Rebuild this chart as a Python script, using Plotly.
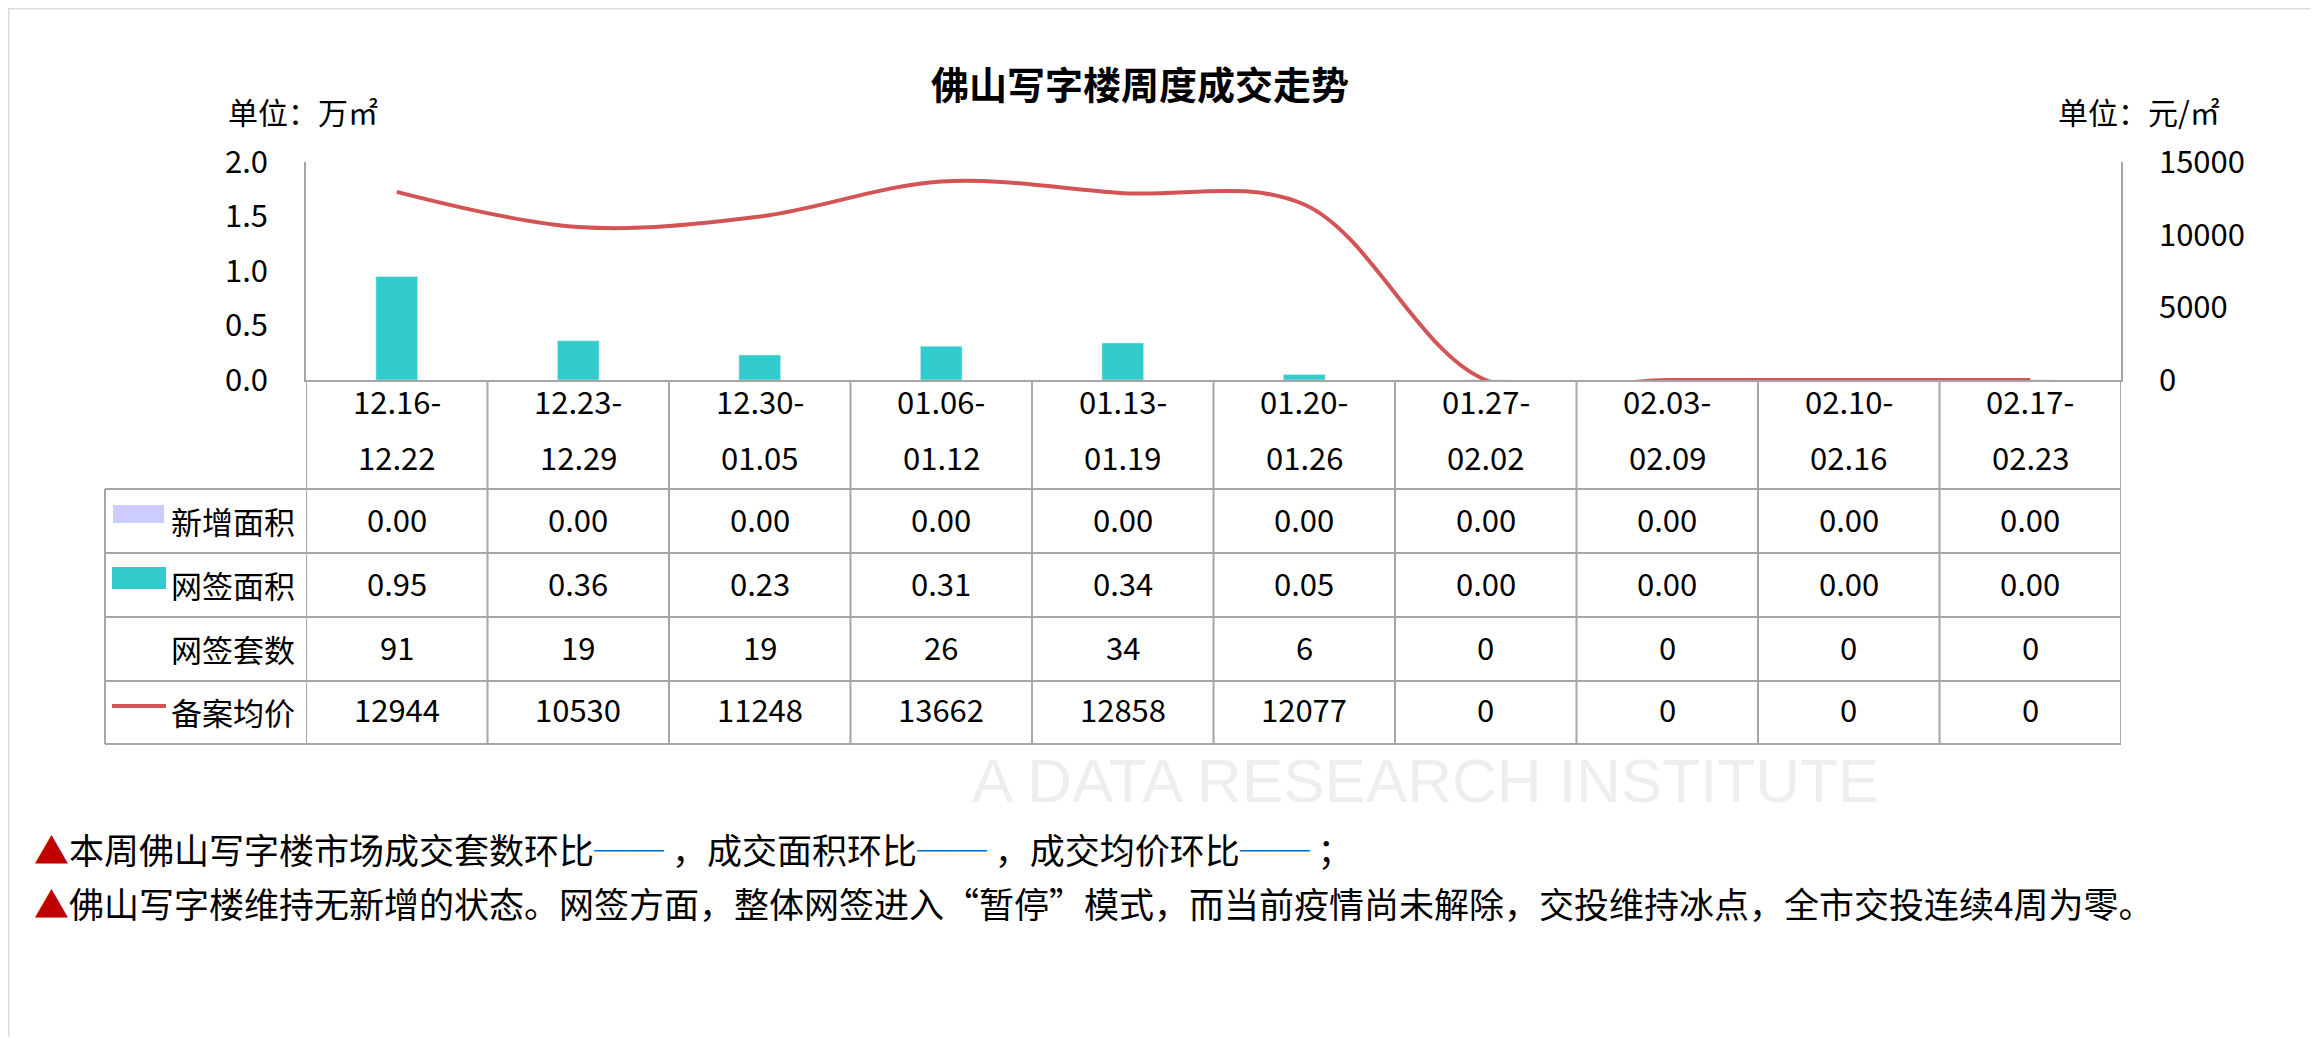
import plotly.graph_objects as go

weeks_start = ["12.16-", "12.23-", "12.30-", "01.06-", "01.13-",
               "01.20-", "01.27-", "02.03-", "02.10-", "02.17-"]
weeks_end = ["12.22", "12.29", "01.05", "01.12", "01.19",
             "01.26", "02.02", "02.09", "02.16", "02.23"]
weeks = [a + b for a, b in zip(weeks_start, weeks_end)]

new_area = [0.00, 0.00, 0.00, 0.00, 0.00, 0.00, 0.00, 0.00, 0.00, 0.00]
signed_area = [0.95, 0.36, 0.23, 0.31, 0.34, 0.05, 0.00, 0.00, 0.00, 0.00]
signed_units = [91, 19, 19, 26, 34, 6, 0, 0, 0, 0]
avg_price = [12944, 10530, 11248, 13662, 12858, 12077, 0, 0, 0, 0]

row_names = ["新增面积", "网签面积", "网签套数", "备案均价"]

title = "佛山写字楼周度成交走势"
DASH = "<span style='color:#0070C0'>──</span>"
note1 = ("<span style='color:#C00000'>▲</span>本周佛山写字楼市场成交套数环比"
         + DASH + " ，成交面积环比" + DASH + " ，成交均价环比" + DASH + " ；")
note2 = ("<span style='color:#C00000'>▲</span>佛山写字楼维持无新增的状态。网签方面，"
         "整体网签进入“暂停”模式，而当前疫情尚未解除，交投维持冰点，全市交投连续4周为零。")

FONT = "Noto Sans CJK SC"
W, H = 2318, 1045
OFF = 8  # page body margin
L, R, T, B = 306, 2121, 162, 380
GRID = "#A6A6A6"


def px(x):
    return (x - L) / (R - L)


def py(y):
    return (B - y) / (B - T)


fig = go.Figure()
fig.add_bar(x=weeks, y=new_area, name="新增面积", marker_color="#CCCCFF",
            width=0.23)
fig.add_bar(x=weeks, y=signed_area, name="网签面积", marker_color="#33CCCC",
            width=0.23)
fig.add_scatter(x=weeks, y=avg_price, name="备案均价", yaxis="y2",
                mode="lines", line=dict(color="#D35454", width=4,
                                        shape="spline", smoothing=1))

ann = []
# header row: week labels in two lines
for w, a, b in zip(weeks, weeks_start, weeks_end):
    ann.append(dict(x=w, y=py(400), text=a))
    ann.append(dict(x=w, y=py(456), text=b))

rows = [
    [f"{v:.2f}" for v in new_area],
    [f"{v:.2f}" for v in signed_area],
    [str(v) for v in signed_units],
    [str(v) for v in avg_price],
]
row_y = [518, 582, 646, 709]
for name, vals, yc in zip(row_names, rows, row_y):
    ann.append(dict(x=px(297), xref="paper", y=py(yc + 2), text=name,
                    xanchor="right"))
    for w, v in zip(weeks, vals):
        ann.append(dict(x=w, y=py(yc), text=v))

for a in ann:
    a.setdefault("xref", "x")
    a.setdefault("xanchor", "center")
    a.update(yref="paper", yanchor="middle", showarrow=False,
             font=dict(size=31, color="#000000", family=FONT))

# axis unit labels
ann.append(dict(x=px(226), y=py(111), xref="paper", yref="paper",
                text="单位：万㎡", xanchor="left", yanchor="middle",
                showarrow=False, font=dict(size=30, color="#000", family=FONT)))
ann.append(dict(x=px(2139), y=py(111), xref="paper", yref="paper",
                text="单位：元/㎡", xanchor="center", yanchor="middle",
                showarrow=False, font=dict(size=30, color="#000", family=FONT)))

# watermark
ann.append(dict(x=px(1425), y=py(780), xref="paper", yref="paper",
                text="A DATA RESEARCH INSTITUTE", showarrow=False,
                xanchor="center", yanchor="middle",
                font=dict(size=62, color="#EEEEEE",
                          family="Liberation Sans")))

# notes
for txt, yc in [(note1, 848), (note2, 902)]:
    ann.append(dict(x=px(32), y=py(yc), xref="paper", yref="paper",
                    text=txt, xanchor="left", yanchor="middle",
                    showarrow=False,
                    font=dict(size=35, color="#000", family=FONT)))

shapes = []
# horizontal table lines
for yl in [489, 553, 617, 681, 744]:
    shapes.append(dict(type="line", xref="paper", yref="paper",
                       x0=px(105), x1=1, y0=py(yl), y1=py(yl),
                       line=dict(color=GRID, width=2)))
# vertical table lines
for k in range(len(weeks) + 1):
    shapes.append(dict(type="line", xref="x", yref="paper",
                       x0=k - 0.5, x1=k - 0.5, y0=py(380), y1=py(744),
                       line=dict(color=GRID, width=2)))
shapes.append(dict(type="line", xref="paper", yref="paper",
                   x0=px(105), x1=px(105), y0=py(489), y1=py(744),
                   line=dict(color=GRID, width=2)))
# legend keys
shapes.append(dict(type="rect", xref="paper", yref="paper",
                   x0=px(113), x1=px(164), y0=py(505), y1=py(523),
                   line=dict(width=0), fillcolor="#CCCCFF"))
shapes.append(dict(type="rect", xref="paper", yref="paper",
                   x0=px(112), x1=px(166), y0=py(567), y1=py(589),
                   line=dict(width=0), fillcolor="#33CCCC"))
shapes.append(dict(type="line", xref="paper", yref="paper",
                   x0=px(112), x1=px(166), y0=py(706), y1=py(706),
                   line=dict(color="#D35454", width=4)))
# outer frame (top and left)
shapes.append(dict(type="line", xref="paper", yref="paper",
                   x0=px(8), x1=px(W), y0=py(8), y1=py(8),
                   line=dict(color="#DDDDDD", width=3)))
shapes.append(dict(type="line", xref="paper", yref="paper",
                   x0=px(8), x1=px(8), y0=py(8), y1=py(H),
                   line=dict(color="#DDDDDD", width=3)))

fig.update_layout(
    width=W - 2 * OFF, height=H - 2 * OFF,
    margin=dict(l=L - OFF, r=W - R - OFF, t=T - OFF, b=H - B - OFF),
    paper_bgcolor="white", plot_bgcolor="rgba(0,0,0,0)",
    barmode="overlay", showlegend=False,
    font=dict(family=FONT, color="#000"),
    title=dict(text="<b>" + title + "</b>", x=(1140 - OFF) / (W - 2 * OFF),
               xref="container", xanchor="center",
               y=1 - (86 - OFF) / (H - 2 * OFF), yref="container",
               yanchor="middle",
               font=dict(size=38, color="#000", family=FONT)),
    xaxis=dict(type="category", range=[-0.5, 9.5], showticklabels=False,
               showgrid=False, zeroline=False, showline=True,
               linecolor=GRID, linewidth=2, ticks=""),
    yaxis=dict(range=[0, 2], dtick=0.5, tickformat=".1f", showgrid=False,
               zeroline=False, showline=True, linecolor=GRID, linewidth=1.5,
               ticks="", ticklabelstandoff=30,
               tickfont=dict(size=31, color="#000", family=FONT)),
    yaxis2=dict(range=[0, 15000], dtick=5000, tickformat="d",
                overlaying="y", side="right",
                showgrid=False, zeroline=False, showline=True,
                linecolor=GRID, linewidth=1.5, ticks="",
                ticklabelstandoff=30,
                tickfont=dict(size=31, color="#000", family=FONT)),
    annotations=ann,
    shapes=shapes,
)

fig.write_html("out.html")
